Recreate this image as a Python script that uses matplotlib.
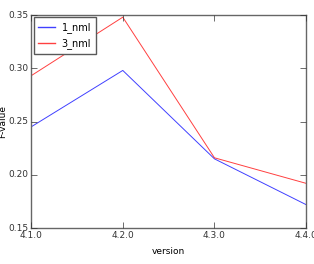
import matplotlib
matplotlib.use('Agg')
import matplotlib.pyplot as plt

plt.style.use('classic')
plt.rcParams['font.size'] = 6.5

versions = ['4.1.0', '4.2.0', '4.3.0', '4.4.0']
nml_1 = [0.245, 0.298, 0.215, 0.172]
nml_3 = [0.293, 0.348, 0.216, 0.192]

fig = plt.figure(figsize=(3.14, 2.64), dpi=100)
ax = fig.add_axes([0.099, 0.136, 0.876, 0.807])
x = range(len(versions))
ax.plot(x, nml_1, color='b', lw=0.7, alpha=0.75, label='1_nml')
ax.plot(x, nml_3, color='r', lw=0.7, alpha=0.75, label='3_nml')
ax.set_xticks(list(x))
ax.set_xticklabels(versions)
ax.set_xlim(0, 3)
ax.set_ylim(0.15, 0.35)
ax.set_yticks([0.15, 0.20, 0.25, 0.30, 0.35])
ax.set_xlabel('version')
ax.set_ylabel('F-value', labelpad=0.5)
leg = ax.legend(loc='upper left', fontsize=7, handlelength=1.7, numpoints=1,
                handletextpad=0.7, borderaxespad=0.25, borderpad=0.5)
leg.get_frame().set_edgecolor('0.35')
for line in leg.get_lines():
    line.set_linewidth(1.0)
for s in ax.spines.values():
    s.set_color('0.4')
ax.tick_params(colors='0.2', pad=2)
fig.savefig('out.png', dpi=100)
